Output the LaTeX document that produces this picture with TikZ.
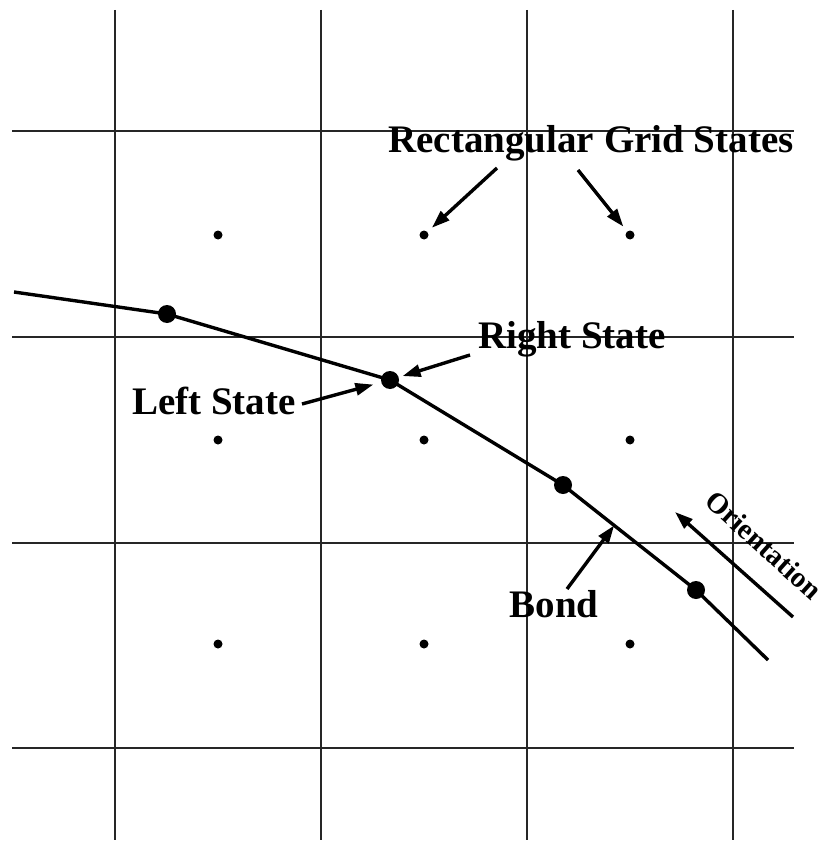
\documentclass[tikz,border=0pt]{standalone}
\usepackage{fontspec}
\setmainfont{Liberation Serif}
\usetikzlibrary{arrows.meta,calc}
\tikzset{
  gridline/.style={line width=1.3pt, black!85},
  bondline/.style={line width=3.4pt, line join=round},
  arr/.style={line width=3.4pt, -{Triangle[length=18pt,width=12pt]}},
  smalldot/.style={circle, fill=black, inner sep=0pt, minimum size=9pt},
  bigdot/.style={circle, fill=black, inner sep=0pt, minimum size=18pt},
  lbl/.style={font=\fontsize{39}{45}\selectfont\bfseries, inner sep=0pt},
  olbl/.style={font=\fontsize{29}{34}\selectfont\bfseries, inner sep=0pt}
}
\begin{document}
\begin{tikzpicture}[x=1pt,y=-1pt]
\useasboundingbox (0,0) rectangle (827,850);
% grid
\foreach \x in {115,321,527,733} \draw[gridline] (\x,10) -- (\x,840);
\foreach \y in {131,337,543,748} \draw[gridline] (12,\y) -- (794,\y);
% grid states
\node[smalldot] (g11) at (218,235) {};
\node[smalldot] (g12) at (424,235) {};
\node[smalldot] (g13) at (630,235) {};
\node[smalldot] (g21) at (218,440) {};
\node[smalldot] (g22) at (424,440) {};
\node[smalldot] (g23) at (630,440) {};
\node[smalldot] (g31) at (218,644) {};
\node[smalldot] (g32) at (424,644) {};
\node[smalldot] (g33) at (630,644) {};
% bond line
\coordinate (bs) at (14,292);
\coordinate (be) at (768,660);
\node[bigdot] (b1) at (167,314) {};
\node[bigdot] (b2) at (390,380) {};
\node[bigdot] (b3) at (563,485) {};
\node[bigdot] (b4) at (696,590) {};
\draw[bondline] (bs) -- (b1.center) -- (b2.center) -- (b3.center) -- (b4.center) -- (be);
% labels
\node[lbl, anchor=base] (trect) at (591,153) {Rectangular Grid States};
\node[lbl, anchor=base] (tright) at (572,348) {Right State};
\node[lbl, anchor=base] (tleft) at (214,414) {Left State};
\node[lbl, anchor=base] (tbond) at (554,617) {Bond};
\node[olbl, rotate=-42] (torient) at (764,545) {Orientation};
% arrows
\coordinate (r1) at (497,168);
\coordinate (r2) at (578,170);
\draw[arr, shorten >=6pt] (r1) -- (g12);
\draw[arr, shorten >=6pt] (r2) -- (g13);
\coordinate (rs) at (470,355);
\draw[arr, shorten >=4pt] (rs) -- (b2);
\coordinate (ls) at (302,404);
\draw[arr, shorten >=8pt] (ls) -- (b2);
\coordinate (bt) at (567,589);
\coordinate (bm) at ($(b3)!0.385!(b4)$);
\draw[arr] (bt) -- (bm);
\coordinate (os) at (793,617);
\coordinate (oe) at (675,512);
\draw[arr] (os) -- (oe);
\end{tikzpicture}
\end{document}
